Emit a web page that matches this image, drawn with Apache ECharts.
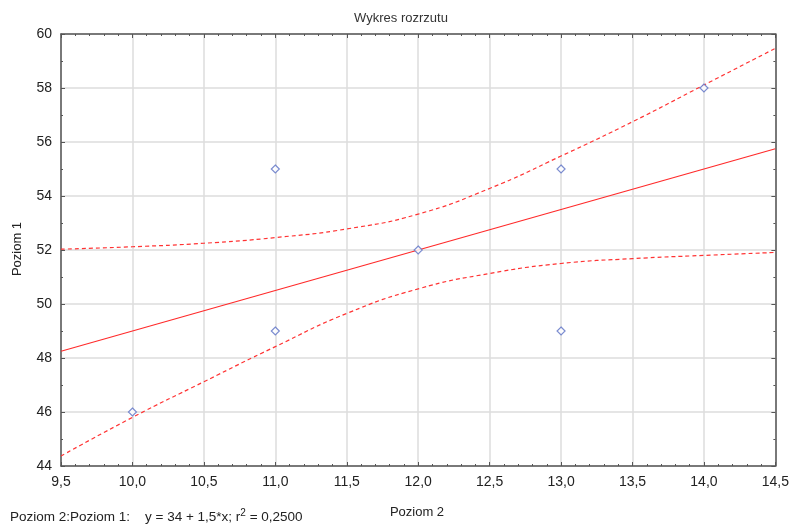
<!DOCTYPE html>
<html>
<head>
<meta charset="utf-8">
<script src="https://cdn.jsdelivr.net/npm/echarts@6/dist/echarts.min.js"></script>
<style>
html, body { margin: 0; padding: 0; background: #fff; }
#chart { width: 792px; height: 526px; }
</style>
</head>
<body>
<div id="chart"></div>
<script>
// dane
var pointsX = [10, 11, 11, 12, 13, 13, 14];
var pointsY = [46, 55, 49, 52, 55, 49, 58];
var lineX = [9.5, 14.5];
var lineY = [48.25, 55.75];
var bandX = [9.5, 10, 10.5, 11, 11.5, 12, 12.5, 13, 13.5, 14, 14.5];
var upperY = [52.03, 52.12, 52.25, 52.46, 52.78, 53.33, 54.28, 55.48, 56.75, 58.11, 59.47];
var lowerY = [44.37, 45.80, 47.12, 48.42, 49.65, 50.56, 51.13, 51.50, 51.68, 51.80, 51.91];

function pairs(xs, ys) {
	return xs.map(function(x, i) { return [x, ys[i]]; });
}

var fontFam = '"Liberation Sans", Arial, sans-serif';
var axisCol = '#555';

function xAxisCfg(pos, labels) {
	return {
		type: 'value',
		position: pos,
		min: 9.5,
		max: 14.5,
		interval: 0.5,
		axisLine: { show: true, onZero: false, lineStyle: { color: axisCol, width: 1.5 } },
		axisTick: { show: true, inside: true, length: 4, lineStyle: { color: axisCol } },
		minorTick: { show: true, splitNumber: 5, length: 2, lineStyle: { color: axisCol } },
		axisLabel: {
			show: labels,
			color: '#222',
			fontSize: 14,
			fontFamily: fontFam,
			margin: 9,
			formatter: function(v) { return v.toFixed(1).replace('.', ','); }
		},
		splitLine: { show: labels, lineStyle: { color: '#dcdcdc', width: 1.5 } }
	};
}

function yAxisCfg(pos, labels) {
	return {
		type: 'value',
		position: pos,
		min: 44,
		max: 60,
		interval: 2,
		axisLine: { show: true, onZero: false, lineStyle: { color: axisCol, width: 1.5 } },
		axisTick: { show: true, inside: true, length: 4, lineStyle: { color: axisCol } },
		minorTick: { show: true, splitNumber: 2, length: 2, lineStyle: { color: axisCol } },
		axisLabel: {
			show: labels,
			color: '#222',
			fontSize: 14,
			fontFamily: fontFam,
			margin: 9
		},
		splitLine: { show: labels, lineStyle: { color: '#dcdcdc', width: 1.5 } }
	};
}

var chart = echarts.init(document.getElementById('chart'));
chart.setOption({
	backgroundColor: '#fff',
	animation: false,
	title: {
		text: 'Wykres rozrzutu',
		left: 396,
		top: 7,
		textAlign: 'center',
		textStyle: { fontSize: 13, fontWeight: 'normal', color: '#333', fontFamily: fontFam }
	},
	grid: { left: 61, right: 16, top: 34, bottom: 60 },
	xAxis: [xAxisCfg('bottom', true), xAxisCfg('top', false)],
	yAxis: [yAxisCfg('left', true), yAxisCfg('right', false)],
	graphic: [
		{
			type: 'text',
			x: 417,
			y: 512,
			style: { text: 'Poziom 2', fontSize: 13, fill: '#222', fontFamily: fontFam, align: 'center', verticalAlign: 'middle' }
		},
		{
			type: 'text',
			x: 17,
			y: 249,
			rotation: Math.PI / 2,
			style: { text: 'Poziom 1', fontSize: 13, fill: '#222', fontFamily: fontFam, align: 'center', verticalAlign: 'middle' }
		},
		{
			type: 'text',
			left: 10,
			top: 508,
			style: {
				text: '{a|Poziom 2:Poziom 1:    y = 34 + 1,5*x; r}{s|2}{a| = 0,2500}',
				rich: {
					a: { fontSize: 13.5, fill: '#222', fontFamily: fontFam, verticalAlign: 'bottom', lineHeight: 16 },
					s: { fontSize: 10, fill: '#222', fontFamily: fontFam, verticalAlign: 'top', lineHeight: 16, padding: [0, 0, 6, 0] }
				}
			}
		}
	],
	series: [
		{
			type: 'line',
			data: pairs(bandX, upperY),
			smooth: true,
			symbol: 'none',
			lineStyle: { color: '#ff3333', width: 1.2, type: [4, 3] },
			z: 2
		},
		{
			type: 'line',
			data: pairs(bandX, lowerY),
			smooth: true,
			symbol: 'none',
			lineStyle: { color: '#ff3333', width: 1.2, type: [4, 3] },
			z: 2
		},
		{
			type: 'line',
			data: pairs(lineX, lineY),
			symbol: 'none',
			lineStyle: { color: '#ff2a2a', width: 1.2 },
			z: 3
		},
		{
			type: 'scatter',
			data: pairs(pointsX, pointsY),
			symbol: 'diamond',
			symbolSize: [8, 8],
			itemStyle: { color: '#fff', borderColor: '#5a6fc4', borderWidth: 1.2 },
			z: 4
		}
	]
});
</script>
</body>
</html>
